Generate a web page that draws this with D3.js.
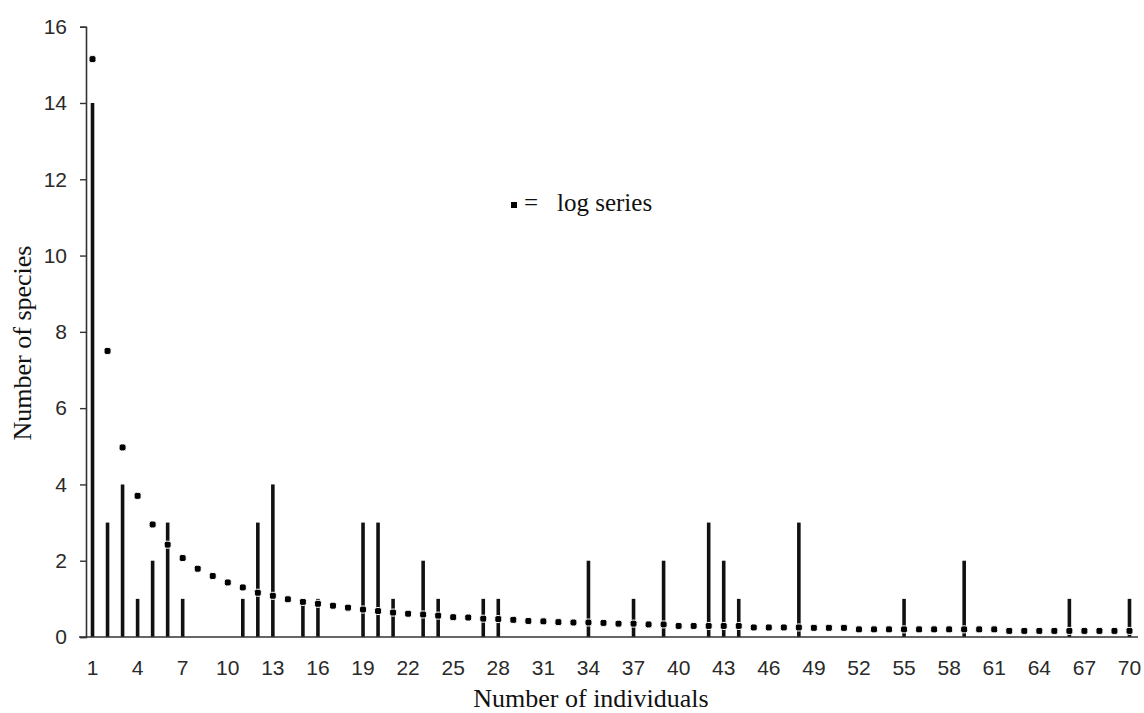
<!DOCTYPE html>
<html>
<head>
<meta charset="utf-8">
<script src="https://cdn.jsdelivr.net/npm/d3@7"></script>
<style>
  body { margin: 0; background: #fff; }
  svg { display: block; }
</style>
</head>
<body>
<div id="chart-holder"></div>
<script>
// abundance classes (number of individuals) on the x axis
var individuals = d3.range(1, 71);
var xTickLabels = [1, 4, 7, 10, 13, 16, 19, 22, 25, 28, 31, 34, 37, 40, 43, 46, 49, 52, 55, 58, 61, 64, 67, 70];
var yTickLabels = [0, 2, 4, 6, 8, 10, 12, 14, 16];

// observed number of species per abundance class
var observed = [
  14, 3, 4, 1, 2, 3, 1, 0, 0, 0,
  1, 3, 4, 0, 1, 1, 0, 0, 3, 3,
  1, 0, 2, 1, 0, 0, 1, 1, 0, 0,
  0, 0, 0, 2, 0, 0, 1, 0, 2, 0,
  0, 3, 2, 1, 0, 0, 0, 3, 0, 0,
  0, 0, 0, 0, 1, 0, 0, 0, 2, 0,
  0, 0, 0, 0, 0, 1, 0, 0, 0, 1
];

// expected values from the fitted log series
var logSeries = [
  15.15, 7.5, 4.97, 3.7, 2.95, 2.42, 2.07, 1.79, 1.6, 1.43,
  1.3, 1.16, 1.08, 0.99, 0.92, 0.87, 0.82, 0.77, 0.72, 0.68,
  0.64, 0.61, 0.59, 0.56, 0.52, 0.51, 0.48, 0.47, 0.45, 0.42,
  0.41, 0.39, 0.38, 0.38, 0.37, 0.35, 0.35, 0.33, 0.33, 0.29,
  0.29, 0.29, 0.29, 0.29, 0.25, 0.25, 0.25, 0.25, 0.24, 0.24,
  0.24, 0.2, 0.2, 0.2, 0.2, 0.2, 0.2, 0.2, 0.2, 0.2,
  0.2, 0.16, 0.16, 0.16, 0.16, 0.16, 0.16, 0.16, 0.16, 0.16
];

var width = 1144;
var height = 713;

var svg = d3.select("#chart-holder")
  .append("svg")
  .attr("width", width)
  .attr("height", height);

var x = d3.scaleBand()
  .domain(individuals)
  .range([85, 1137]);

var y = d3.scaleLinear()
  .domain([0, 16])
  .range([637, 26.7]);

var cx = function(d) { return x(d) + x.bandwidth() / 2; };

// y axis
var yAxis = svg.append("g")
  .attr("transform", "translate(86,0)")
  .call(d3.axisLeft(y).tickValues(yTickLabels).tickSize(6).tickPadding(13));
yAxis.select(".domain").attr("stroke", "#333").attr("stroke-width", 1.6);
yAxis.selectAll(".tick line").attr("stroke", "#333").attr("stroke-width", 1.4);
yAxis.selectAll(".tick text")
  .attr("fill", "#2a2a2a")
  .style("font-family", "'Liberation Sans', Arial, sans-serif")
  .style("font-size", "21px");

// x axis (labels only, baseline drawn separately)
var xAxis = svg.append("g")
  .attr("transform", "translate(0,637)")
  .call(d3.axisBottom(x).tickValues(xTickLabels).tickSize(0).tickPadding(23));
xAxis.select(".domain").remove();
xAxis.selectAll(".tick text")
  .attr("fill", "#2a2a2a")
  .style("font-family", "'Liberation Sans', Arial, sans-serif")
  .style("font-size", "21px");

// observed species: thin vertical bars
svg.append("g")
  .selectAll("line")
  .data(individuals.filter(function(d, i) { return observed[i] > 0; }))
  .enter()
  .append("line")
  .attr("x1", cx)
  .attr("x2", cx)
  .attr("y1", y(0))
  .attr("y2", function(d) { return y(observed[d - 1]); })
  .attr("stroke", "#111")
  .attr("stroke-width", 3.6);

svg.append("line")
  .attr("x1", 79)
  .attr("x2", 1138)
  .attr("y1", y(0))
  .attr("y2", y(0))
  .attr("stroke", "#333")
  .attr("stroke-width", 1.6);

// log series: dots
svg.append("g")
  .selectAll("rect")
  .data(individuals)
  .enter()
  .append("rect")
  .attr("x", function(d) { return cx(d) - 3.5; })
  .attr("y", function(d) { return y(logSeries[d - 1]) - 3.5; })
  .attr("width", 7)
  .attr("height", 7)
  .attr("rx", 2.2)
  .attr("fill", "#000")
  .attr("stroke", "#fff")
  .attr("stroke-width", 1);

// legend
var legend = svg.append("g")
  .style("font-family", "'Liberation Serif', 'Times New Roman', serif")
  .style("font-size", "25px")
  .attr("fill", "#111");
legend.append("rect")
  .attr("x", 511).attr("y", 202)
  .attr("width", 6).attr("height", 6)
  .attr("fill", "#000");
legend.append("text").attr("x", 524).attr("y", 211).text("=");
legend.append("text").attr("x", 557).attr("y", 211).text("log series");

// axis titles
svg.append("text")
  .attr("x", 591)
  .attr("y", 707)
  .attr("text-anchor", "middle")
  .style("font-family", "'Liberation Serif', 'Times New Roman', serif")
  .style("font-size", "26px")
  .attr("fill", "#111")
  .text("Number of individuals");

svg.append("text")
  .attr("transform", "translate(31,343) rotate(-90)")
  .attr("text-anchor", "middle")
  .style("font-family", "'Liberation Serif', 'Times New Roman', serif")
  .style("font-size", "26px")
  .attr("fill", "#111")
  .text("Number of species");
</script>
</body>
</html>
